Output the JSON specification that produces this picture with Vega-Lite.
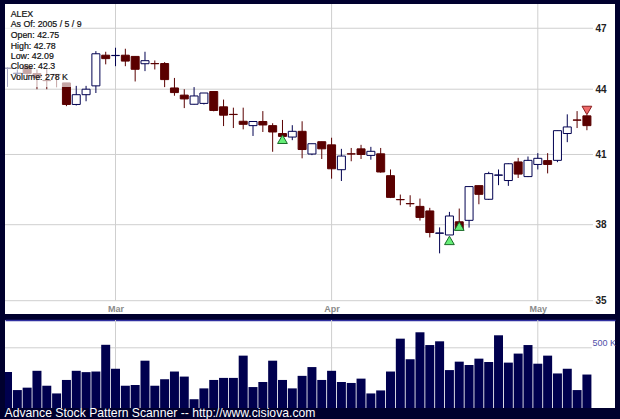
{
"$schema":"https://vega.github.io/schema/vega-lite/v6.json",
"background":"#00002e",
"padding":{"left":4,"top":3,"right":4,"bottom":0},
"autosize":{"type":"pad"},
"title":{"text":"Advance Stock Pattern Scanner -- http://www.cisiova.com","orient":"bottom","anchor":"start","color":"#ffffff","fontSize":12.2,"font":"Liberation Sans","fontWeight":"normal","offset":-2,"frame":"bounds"},
"datasets":{
"bars":[
{"i":0,"o":45.0,"h":45.05,"l":44.11,"c":45.02,"d":"up","v":300},
{"i":1,"o":44.75,"h":44.95,"l":44.51,"c":44.77,"d":"up","v":149},
{"i":2,"o":45.1,"h":45.15,"l":44.6,"c":44.75,"d":"down","v":169},
{"i":3,"o":44.75,"h":44.95,"l":44.0,"c":44.56,"d":"down","v":309},
{"i":4,"o":44.42,"h":45.03,"l":44.0,"c":44.41,"d":"down","v":185},
{"i":5,"o":44.71,"h":44.72,"l":44.1,"c":44.7,"d":"down","v":121},
{"i":6,"o":44.3,"h":44.3,"l":43.2,"c":43.28,"d":"down","v":233},
{"i":7,"o":43.28,"h":44.16,"l":43.23,"c":43.74,"d":"up","v":309},
{"i":8,"o":43.74,"h":44.16,"l":43.43,"c":44.0,"d":"up","v":298},
{"i":9,"o":44.16,"h":45.85,"l":43.82,"c":45.72,"d":"up","v":303},
{"i":10,"o":45.65,"h":45.82,"l":45.2,"c":45.48,"d":"down","v":525},
{"i":11,"o":45.63,"h":46.02,"l":45.11,"c":45.64,"d":"up","v":326},
{"i":12,"o":45.65,"h":45.97,"l":45.11,"c":45.36,"d":"down","v":185},
{"i":13,"o":45.59,"h":45.59,"l":44.37,"c":44.96,"d":"down","v":191},
{"i":14,"o":45.23,"h":45.82,"l":44.87,"c":45.38,"d":"up","v":393},
{"i":15,"o":45.24,"h":45.39,"l":44.95,"c":45.23,"d":"down","v":185},
{"i":16,"o":45.24,"h":45.31,"l":44.1,"c":44.46,"d":"down","v":239},
{"i":17,"o":44.06,"h":44.54,"l":43.69,"c":43.84,"d":"down","v":303},
{"i":18,"o":43.72,"h":44.0,"l":43.11,"c":43.54,"d":"down","v":261},
{"i":19,"o":43.29,"h":44.1,"l":43.28,"c":43.68,"d":"up","v":73},
{"i":20,"o":43.33,"h":43.82,"l":43.28,"c":43.82,"d":"up","v":163},
{"i":21,"o":43.89,"h":43.89,"l":42.96,"c":43.0,"d":"down","v":233},
{"i":22,"o":43.17,"h":43.51,"l":42.28,"c":42.78,"d":"down","v":250},
{"i":23,"o":42.82,"h":43.13,"l":42.19,"c":42.81,"d":"down","v":250},
{"i":24,"o":42.5,"h":43.13,"l":42.13,"c":42.36,"d":"down","v":435},
{"i":25,"o":42.3,"h":42.5,"l":41.83,"c":42.49,"d":"up","v":174},
{"i":26,"o":42.49,"h":42.97,"l":42.01,"c":42.33,"d":"down","v":216},
{"i":27,"o":42.3,"h":42.41,"l":41.12,"c":42.01,"d":"down","v":393},
{"i":28,"o":41.94,"h":42.56,"l":41.67,"c":41.81,"d":"down","v":233},
{"i":29,"o":41.78,"h":42.32,"l":41.64,"c":42.04,"d":"up","v":163},
{"i":30,"o":42.04,"h":42.5,"l":40.83,"c":41.22,"d":"down","v":267},
{"i":31,"o":41.02,"h":41.48,"l":40.97,"c":41.48,"d":"up","v":340},
{"i":32,"o":41.57,"h":41.57,"l":40.8,"c":41.25,"d":"down","v":233},
{"i":33,"o":41.43,"h":41.75,"l":39.94,"c":40.37,"d":"down","v":309},
{"i":34,"o":40.33,"h":41.25,"l":39.84,"c":40.93,"d":"up","v":216},
{"i":35,"o":41.03,"h":41.29,"l":40.7,"c":41.02,"d":"down","v":208},
{"i":36,"o":41.25,"h":41.43,"l":40.8,"c":41.0,"d":"down","v":244},
{"i":37,"o":40.96,"h":41.34,"l":40.77,"c":41.14,"d":"up","v":121},
{"i":38,"o":41.03,"h":41.29,"l":40.2,"c":40.23,"d":"down","v":146},
{"i":39,"o":40.07,"h":40.34,"l":39.11,"c":39.14,"d":"down","v":303},
{"i":40,"o":39.05,"h":39.26,"l":38.81,"c":39.04,"d":"down","v":576},
{"i":41,"o":38.88,"h":39.23,"l":38.74,"c":38.87,"d":"down","v":405},
{"i":42,"o":38.76,"h":39.09,"l":38.17,"c":38.3,"d":"down","v":629},
{"i":43,"o":38.57,"h":38.7,"l":37.48,"c":37.68,"d":"down","v":523},
{"i":44,"o":37.65,"h":37.89,"l":36.84,"c":37.66,"d":"up","v":554},
{"i":45,"o":37.58,"h":38.53,"l":37.58,"c":38.36,"d":"up","v":315},
{"i":46,"o":38.12,"h":38.67,"l":37.79,"c":37.79,"d":"down","v":385},
{"i":47,"o":38.18,"h":39.6,"l":37.88,"c":39.6,"d":"up","v":357},
{"i":48,"o":39.64,"h":39.64,"l":38.85,"c":39.27,"d":"down","v":410},
{"i":49,"o":39.06,"h":40.24,"l":39.03,"c":40.16,"d":"up","v":382},
{"i":50,"o":40.09,"h":40.34,"l":39.66,"c":40.1,"d":"up","v":604},
{"i":51,"o":39.86,"h":40.61,"l":39.63,"c":40.59,"d":"up","v":377},
{"i":52,"o":40.67,"h":40.85,"l":39.97,"c":40.14,"d":"down","v":452},
{"i":53,"o":40.03,"h":40.91,"l":40.01,"c":40.74,"d":"up","v":523},
{"i":54,"o":40.56,"h":41.06,"l":40.34,"c":40.83,"d":"up","v":368},
{"i":55,"o":40.73,"h":41.06,"l":40.17,"c":40.56,"d":"down","v":435},
{"i":56,"o":40.74,"h":42.07,"l":40.66,"c":42.07,"d":"up","v":287},
{"i":57,"o":41.94,"h":42.82,"l":41.55,"c":42.24,"d":"up","v":326},
{"i":58,"o":42.56,"h":42.97,"l":42.19,"c":42.55,"d":"down","v":149},
{"i":59,"o":42.75,"h":42.78,"l":42.09,"c":42.3,"d":"down","v":278}
],
"priceGrid":[{"i":-0.2546,"i2":59.62,"p":47},{"i":-0.2546,"i2":59.62,"p":44},{"i":-0.2546,"i2":59.62,"p":41},{"i":-0.2546,"i2":59.62,"p":38},{"i":-0.2546,"i2":59.62,"p":35}],
"months":[{"i":11,"p":48.25,"p2":35,"v":0,"v2":731},{"i":33,"p":48.25,"p2":35,"v":0,"v2":731},{"i":54,"p":48.25,"p2":35,"v":0,"v2":731}],
"signalsUp":[{"i":28,"p":41.68},{"i":45,"p":37.36},{"i":46,"p":37.94}],
"signalsDown":[{"i":59,"p":43.0}],
"infoBox":[{"i":-0.2546,"i2":6.57,"p":48.25,"p2":44.11}],
"info":[
{"i":0.33,"p":47.73,"t":"ALEX"},
{"i":0.33,"p":47.2,"t":"As Of: 2005 / 5 / 9"},
{"i":0.33,"p":46.66,"t":"Open: 42.75"},
{"i":0.33,"p":46.12,"t":"High: 42.78"},
{"i":0.33,"p":45.61,"t":"Low: 42.09"},
{"i":0.33,"p":45.11,"t":"Close: 42.3"},
{"i":0.33,"p":44.59,"t":"Volume: 278 K"}
],
"volGrid":[{"i":-0.2546,"i2":59.5,"v":500}]
},
"spacing":5,
"vconcat":[
{
"width":610,"height":310,
"view":{"fill":"#ffffff","stroke":null},
"layer":[
{"data":{"name":"priceGrid"},"mark":{"type":"rule","color":"#cfcfcf","strokeWidth":1},
"encoding":{
"x":{"field":"i","type":"quantitative","title":null,"scale":{"domain":[-0.2546,61.86],"nice":false,"zero":false,"padding":0},
"axis":{"orient":"bottom","values":[11,33,54],"labelExpr":"datum.value==11?'Mar':datum.value==33?'Apr':'May'","domain":false,"ticks":false,"grid":false,"labelPadding":-6,"labelBaseline":"middle","labelFont":"Liberation Sans","labelFontSize":9,"labelFontWeight":"bold","labelColor":"#8a8a8a","title":null}},
"x2":{"field":"i2"},
"y":{"field":"p","type":"quantitative","title":null,"scale":{"type":"log","domain":[34.5,48.25],"nice":false,"zero":false},
"axis":{"orient":"right","values":[35,38,41,44,47],"format":"d","domain":false,"ticks":false,"grid":false,"labelAlign":"left","labelPadding":-20,"labelFont":"Liberation Sans","labelFontSize":10,"labelFontWeight":"bold","labelColor":"#222222","title":null}}}},
{"data":{"name":"months"},"mark":{"type":"rule","color":"#cfcfcf","strokeWidth":1},
"encoding":{"x":{"field":"i","type":"quantitative"},"y":{"field":"p","type":"quantitative"},"y2":{"field":"p2"}}},
{"data":{"name":"bars"},"mark":{"type":"rule","strokeWidth":1,"clip":true},
"encoding":{"x":{"field":"i","type":"quantitative"},"y":{"field":"l","type":"quantitative"},"y2":{"field":"h"},
"color":{"field":"d","type":"nominal","legend":null,"scale":{"domain":["up","down"],"range":["#000050","#5a0000"]}}}},
{"data":{"name":"bars"},"mark":{"type":"bar","size":8,"orient":"vertical","strokeWidth":1,"clip":true},
"encoding":{"x":{"field":"i","type":"quantitative"},"y":{"field":"o","type":"quantitative"},"y2":{"field":"c"},
"fill":{"field":"d","type":"nominal","legend":null,"scale":{"domain":["up","down"],"range":["#ffffff","#5a0000"]}},
"stroke":{"field":"d","type":"nominal","legend":null,"scale":{"domain":["up","down"],"range":["#000050","#5a0000"]}}}},
{"data":{"name":"signalsUp"},"mark":{"type":"point","shape":"triangle-up","size":95,"filled":true,"fill":"#66ee77","stroke":"#1a6a2a","strokeWidth":1,"opacity":1},
"encoding":{"x":{"field":"i","type":"quantitative"},"y":{"field":"p","type":"quantitative"}}},
{"data":{"name":"signalsDown"},"mark":{"type":"point","shape":"triangle-down","size":95,"filled":true,"fill":"#ee6a6a","stroke":"#8a2020","strokeWidth":1,"opacity":1},
"encoding":{"x":{"field":"i","type":"quantitative"},"y":{"field":"p","type":"quantitative"}}},
{"data":{"name":"infoBox"},"mark":{"type":"rect","fill":"#ffffff","opacity":0.65},
"encoding":{"x":{"field":"i","type":"quantitative"},"x2":{"field":"i2"},"y":{"field":"p","type":"quantitative"},"y2":{"field":"p2"}}},
{"data":{"name":"info"},"mark":{"type":"text","align":"left","baseline":"middle","font":"Liberation Sans","fontSize":8.8,"color":"#111111","stroke":"#111111","strokeWidth":0.2},
"encoding":{"x":{"field":"i","type":"quantitative"},"y":{"field":"p","type":"quantitative"},"text":{"field":"t","type":"nominal"}}}
],
"resolve":{"scale":{"color":"independent"}}
},
{
"width":610,"height":88,
"view":{"fill":"#ffffff","stroke":null},
"layer":[
{"data":{"name":"volGrid"},"mark":{"type":"rule","color":"#cfcfcf","strokeWidth":1},
"encoding":{
"x":{"field":"i","type":"quantitative","title":null,"scale":{"domain":[-0.2546,61.86],"nice":false,"zero":false,"padding":0},
"axis":{"orient":"top","values":[],"domain":true,"domainColor":"#3030a0","domainWidth":1.5,"ticks":false,"labels":false,"grid":false,"title":null}},
"x2":{"field":"i2"},
"y":{"field":"v","type":"quantitative","title":null,"scale":{"domain":[0,731],"nice":false},
"axis":{"orient":"right","values":[500],"labelExpr":"'500 K'","domain":false,"ticks":false,"grid":false,"labelAlign":"left","labelBaseline":"bottom","labelPadding":-23,"labelFont":"Liberation Sans","labelFontSize":9,"labelColor":"#5050a8","title":null}}}},
{"data":{"name":"months"},"mark":{"type":"rule","color":"#cfcfcf","strokeWidth":1},
"encoding":{"x":{"field":"i","type":"quantitative"},"y":{"field":"v","type":"quantitative"},"y2":{"field":"v2"}}},
{"data":{"name":"bars"},"mark":{"type":"bar","size":9,"orient":"vertical","color":"#00004e","clip":true},
"encoding":{"x":{"field":"i","type":"quantitative"},"y":{"field":"v","type":"quantitative"}}}
]
}
]
}
